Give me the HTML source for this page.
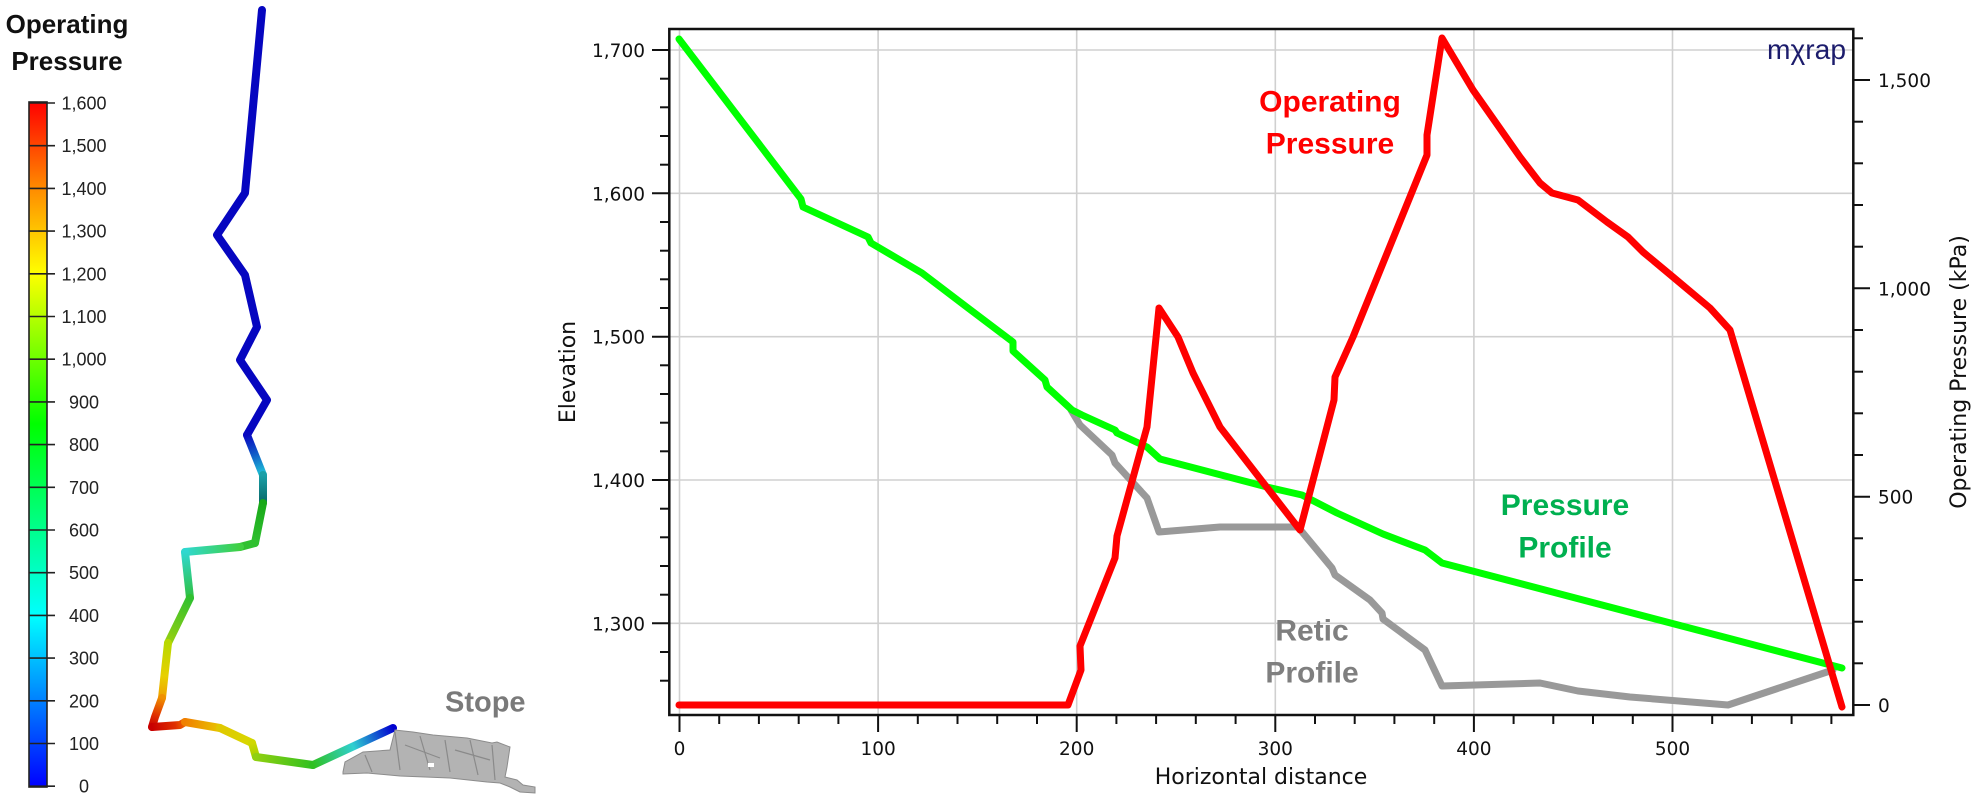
<!DOCTYPE html>
<html>
<head>
<meta charset="utf-8">
<style>
  html, body { margin:0; padding:0; background:#ffffff; }
  body { width:1975px; height:803px; overflow:hidden; }
  svg { display:block; }
  .tl { font-family:"DejaVu Sans","Liberation Sans",sans-serif; font-size:18.5px; fill:#111; }
  .at { font-family:"DejaVu Sans","Liberation Sans",sans-serif; font-size:22px; fill:#111; }
  .cb { font-family:"Liberation Sans",sans-serif; font-size:18px; fill:#222; }
  .lab { font-family:"Liberation Sans",sans-serif; font-weight:bold; font-size:30px; }
</style>
</head>
<body>
<svg width="1975" height="803" viewBox="0 0 1975 803" xmlns="http://www.w3.org/2000/svg">
  <defs>
    <linearGradient id="cbar" x1="0" y1="102" x2="0" y2="787" gradientUnits="userSpaceOnUse">
      <stop offset="0" stop-color="#ff0000"/>
      <stop offset="0.125" stop-color="#ff8a00"/>
      <stop offset="0.25" stop-color="#ffff00"/>
      <stop offset="0.47" stop-color="#00ff00"/>
      <stop offset="0.75" stop-color="#00ffff"/>
      <stop offset="1" stop-color="#0000ff"/>
    </linearGradient>
    <linearGradient id="g8" x1="247" y1="435" x2="263" y2="475" gradientUnits="userSpaceOnUse"><stop offset="0" stop-color="#0808c0"/><stop offset="0.5" stop-color="#1060c8"/><stop offset="1" stop-color="#20c8d8"/></linearGradient>
    <linearGradient id="g9" x1="263" y1="475" x2="263" y2="503" gradientUnits="userSpaceOnUse"><stop offset="0" stop-color="#1aa0a8"/><stop offset="1" stop-color="#086868"/></linearGradient>
    <linearGradient id="g10" x1="263" y1="503" x2="255" y2="543" gradientUnits="userSpaceOnUse"><stop offset="0" stop-color="#18a818"/><stop offset="1" stop-color="#30c030"/></linearGradient>
    <linearGradient id="g12" x1="240" y1="547" x2="185" y2="552" gradientUnits="userSpaceOnUse"><stop offset="0" stop-color="#40d040"/><stop offset="1" stop-color="#30d8d0"/></linearGradient>
    <linearGradient id="g13" x1="185" y1="552" x2="190" y2="598" gradientUnits="userSpaceOnUse"><stop offset="0" stop-color="#30d8d0"/><stop offset="1" stop-color="#30c040"/></linearGradient>
    <linearGradient id="g14" x1="190" y1="598" x2="168" y2="643" gradientUnits="userSpaceOnUse"><stop offset="0" stop-color="#30c030"/><stop offset="1" stop-color="#98d010"/></linearGradient>
    <linearGradient id="g15" x1="168" y1="643" x2="162" y2="698" gradientUnits="userSpaceOnUse"><stop offset="0" stop-color="#b8d800"/><stop offset="0.6" stop-color="#e8d000"/><stop offset="1" stop-color="#f0a000"/></linearGradient>
    <linearGradient id="g16" x1="162" y1="698" x2="152" y2="727" gradientUnits="userSpaceOnUse"><stop offset="0" stop-color="#f09000"/><stop offset="0.6" stop-color="#e03000"/><stop offset="1" stop-color="#c80000"/></linearGradient>
    <linearGradient id="g18" x1="152" y1="727" x2="185" y2="722" gradientUnits="userSpaceOnUse"><stop offset="0" stop-color="#c80000"/><stop offset="0.7" stop-color="#e03000"/><stop offset="1" stop-color="#f06800"/></linearGradient>
    <linearGradient id="g20" x1="185" y1="722" x2="220" y2="728" gradientUnits="userSpaceOnUse"><stop offset="0" stop-color="#f08000"/><stop offset="1" stop-color="#e8c400"/></linearGradient>
    <linearGradient id="g21" x1="220" y1="728" x2="252" y2="743" gradientUnits="userSpaceOnUse"><stop offset="0" stop-color="#e0c800"/><stop offset="1" stop-color="#d8d800"/></linearGradient>
    <linearGradient id="g22" x1="252" y1="743" x2="256" y2="757" gradientUnits="userSpaceOnUse"><stop offset="0" stop-color="#d0d800"/><stop offset="1" stop-color="#a0d000"/></linearGradient>
    <linearGradient id="g23" x1="256" y1="757" x2="313" y2="765" gradientUnits="userSpaceOnUse"><stop offset="0" stop-color="#90d010"/><stop offset="1" stop-color="#30c020"/></linearGradient>
    <linearGradient id="g24" x1="313" y1="765" x2="393" y2="728" gradientUnits="userSpaceOnUse"><stop offset="0" stop-color="#30c020"/><stop offset="0.5" stop-color="#30d0d0"/><stop offset="1" stop-color="#0000d0"/></linearGradient>
  </defs>

  <!-- ============ LEFT: colour bar ============ -->
  <text x="67" y="33" text-anchor="middle" style="font-family:'Liberation Sans',sans-serif;font-weight:bold;font-size:26px;fill:#111">Operating</text>
  <text x="67" y="70" text-anchor="middle" style="font-family:'Liberation Sans',sans-serif;font-weight:bold;font-size:26px;fill:#111">Pressure</text>

  <rect x="29" y="102" width="18" height="685" fill="url(#cbar)" stroke="#222" stroke-width="1.6"/>
  <g stroke="#222" stroke-width="1.6">
    <line x1="29" y1="103" x2="55" y2="103"/><line x1="29" y1="145.7" x2="55" y2="145.7"/>
    <line x1="29" y1="188.4" x2="55" y2="188.4"/><line x1="29" y1="231.1" x2="55" y2="231.1"/>
    <line x1="29" y1="273.8" x2="55" y2="273.8"/><line x1="29" y1="316.5" x2="55" y2="316.5"/>
    <line x1="29" y1="359.2" x2="55" y2="359.2"/><line x1="29" y1="401.9" x2="55" y2="401.9"/>
    <line x1="29" y1="444.6" x2="55" y2="444.6"/><line x1="29" y1="487.3" x2="55" y2="487.3"/>
    <line x1="29" y1="530" x2="55" y2="530"/><line x1="29" y1="572.7" x2="55" y2="572.7"/>
    <line x1="29" y1="615.4" x2="55" y2="615.4"/><line x1="29" y1="658.1" x2="55" y2="658.1"/>
    <line x1="29" y1="700.8" x2="55" y2="700.8"/><line x1="29" y1="743.5" x2="55" y2="743.5"/>
    <line x1="29" y1="786.2" x2="55" y2="786.2"/>
  </g>
  <g class="cb" text-anchor="middle">
    <text x="84" y="109.5">1,600</text><text x="84" y="152.2">1,500</text>
    <text x="84" y="194.9">1,400</text><text x="84" y="237.6">1,300</text>
    <text x="84" y="280.3">1,200</text><text x="84" y="323">1,100</text>
    <text x="84" y="365.7">1,000</text><text x="84" y="408.4">900</text>
    <text x="84" y="451.1">800</text><text x="84" y="493.8">700</text>
    <text x="84" y="536.5">600</text><text x="84" y="579.2">500</text>
    <text x="84" y="621.9">400</text><text x="84" y="664.6">300</text>
    <text x="84" y="707.3">200</text><text x="84" y="750">100</text>
    <text x="84" y="792.7">0</text>
  </g>

  <!-- ============ 3D pipe ============ -->
  <g fill="none" stroke-width="8" stroke-linecap="round" stroke-linejoin="round">
    <polyline points="262,10 245,193 217,235 245,275 257,327 240,360 267,400 247,435" stroke="#0606c0"/>
    <line x1="247" y1="435" x2="263" y2="475" stroke="url(#g8)"/>
    <line x1="263" y1="475" x2="263" y2="503" stroke="url(#g9)"/>
    <line x1="263" y1="503" x2="255" y2="543" stroke="url(#g10)"/>
    <line x1="255" y1="543" x2="240" y2="547" stroke="#30c030"/>
    <line x1="240" y1="547" x2="185" y2="552" stroke="url(#g12)"/>
    <line x1="185" y1="552" x2="190" y2="598" stroke="url(#g13)"/>
    <line x1="190" y1="598" x2="168" y2="643" stroke="url(#g14)"/>
    <line x1="168" y1="643" x2="162" y2="698" stroke="url(#g15)"/>
    <polyline points="162,698 155,717 152,727" stroke="url(#g16)"/>
    <polyline points="152,727 180,725 185,722" stroke="url(#g18)"/>
    <line x1="185" y1="722" x2="220" y2="728" stroke="url(#g20)"/>
    <line x1="220" y1="728" x2="252" y2="743" stroke="url(#g21)"/>
    <line x1="252" y1="743" x2="256" y2="757" stroke="url(#g22)"/>
    <line x1="256" y1="757" x2="313" y2="765" stroke="url(#g23)"/>
    <line x1="313" y1="765" x2="393" y2="728" stroke="url(#g24)"/>
  </g>

  <!-- Stope -->
  <polygon points="343,772 345,762 363,752 390,750 395,730 413,732 433,735 467,738 492,743 497,742 510,747 507,767 505,777 517,780 523,785 535,787 535,793 520,792 510,787 500,783 487,782 450,778 400,776 367,773 343,774"
           fill="#b3b3b3" stroke="#8c8c8c" stroke-width="1"/>
  <g stroke="#8a8a8a" stroke-width="1.2" fill="none">
    <path d="M395,732 L400,770"/><path d="M420,736 L430,770"/><path d="M445,740 L450,772"/>
    <path d="M470,740 L478,775"/><path d="M492,745 L495,780"/><path d="M365,755 L372,772"/>
    <path d="M405,745 L440,758"/><path d="M455,750 L490,760"/>
  </g>
  <rect x="428" y="763" width="6" height="4" fill="#ffffff"/>
  <text x="445" y="711.7" style="font-family:'Liberation Sans',sans-serif;font-weight:bold;font-size:29px;fill:#7a7a7a">Stope</text>

  <!-- ============ CHART ============ -->
  <!-- gridlines -->
  <g stroke="#d0d0d0" stroke-width="1.6">
    <line x1="679.5" y1="29" x2="679.5" y2="715"/>
    <line x1="878.1" y1="29" x2="878.1" y2="715"/>
    <line x1="1076.7" y1="29" x2="1076.7" y2="715"/>
    <line x1="1275.3" y1="29" x2="1275.3" y2="715"/>
    <line x1="1473.9" y1="29" x2="1473.9" y2="715"/>
    <line x1="1672.5" y1="29" x2="1672.5" y2="715"/>
    <line x1="669" y1="50" x2="1853" y2="50"/>
    <line x1="669" y1="193.3" x2="1853" y2="193.3"/>
    <line x1="669" y1="336.7" x2="1853" y2="336.7"/>
    <line x1="669" y1="480" x2="1853" y2="480"/>
    <line x1="669" y1="623.3" x2="1853" y2="623.3"/>
  </g>

  <!-- series -->
  <g fill="none" stroke-width="7" stroke-linecap="round" stroke-linejoin="round">
    <polyline stroke="#999999" points="1071,410 1080,425 1112,455 1115,463 1147,498 1159,532 1220,527 1298,527 1332,568 1335,575 1370,600 1382,613 1383,619 1425,650 1442,686 1540,683 1578,691 1630,697 1728,705 1833,670"/>
    <polyline stroke="#00ff00" points="679,39 801,199 803,207 868,237 871,243 922,273 968,308 1013,342 1013,351 1045,380 1047,387 1072,410 1082,415 1115,430 1117,433 1147,447 1160,459 1267,487 1302,495 1337,513 1383,534 1425,550 1442,563 1842,668"/>
    <polyline stroke="#ff0000" points="679,705 1068,705 1081,670 1080,646 1115,558 1117,536 1147,427 1159,308 1178,337 1193,373 1220,427 1300,530 1334,400 1335,377 1353,337 1427,155 1427,135 1442,38 1473,90 1520,157 1540,183 1552,193 1578,200 1607,222 1628,237 1643,252 1673,277 1710,308 1730,330 1842,707"/>
  </g>

  <!-- frame -->
  <rect x="669.3" y="29" width="1184" height="686" fill="none" stroke="#111" stroke-width="2.5"/>

  <!-- left ticks -->
  <g stroke="#111" stroke-width="2">
    <line x1="652" y1="50" x2="669" y2="50"/><line x1="652" y1="193.3" x2="669" y2="193.3"/>
    <line x1="652" y1="336.7" x2="669" y2="336.7"/><line x1="652" y1="480" x2="669" y2="480"/>
    <line x1="652" y1="623.3" x2="669" y2="623.3"/>
    <line x1="660" y1="78.7" x2="669" y2="78.7"/><line x1="660" y1="107.3" x2="669" y2="107.3"/>
    <line x1="660" y1="136" x2="669" y2="136"/><line x1="660" y1="164.7" x2="669" y2="164.7"/>
    <line x1="660" y1="222" x2="669" y2="222"/><line x1="660" y1="250.7" x2="669" y2="250.7"/>
    <line x1="660" y1="279.3" x2="669" y2="279.3"/><line x1="660" y1="308" x2="669" y2="308"/>
    <line x1="660" y1="365.3" x2="669" y2="365.3"/><line x1="660" y1="394" x2="669" y2="394"/>
    <line x1="660" y1="422.7" x2="669" y2="422.7"/><line x1="660" y1="451.3" x2="669" y2="451.3"/>
    <line x1="660" y1="508.7" x2="669" y2="508.7"/><line x1="660" y1="537.3" x2="669" y2="537.3"/>
    <line x1="660" y1="566" x2="669" y2="566"/><line x1="660" y1="594.7" x2="669" y2="594.7"/>
    <line x1="660" y1="652" x2="669" y2="652"/><line x1="660" y1="680.7" x2="669" y2="680.7"/>
  </g>
  <g class="tl" text-anchor="end">
    <text x="645" y="57">1,700</text><text x="645" y="200.3">1,600</text>
    <text x="645" y="343.7">1,500</text><text x="645" y="487">1,400</text>
    <text x="645" y="630.3">1,300</text>
  </g>

  <!-- bottom ticks -->
  <g stroke="#111" stroke-width="2">
    <line x1="679.5" y1="715" x2="679.5" y2="732"/><line x1="878.1" y1="715" x2="878.1" y2="732"/>
    <line x1="1076.7" y1="715" x2="1076.7" y2="732"/><line x1="1275.3" y1="715" x2="1275.3" y2="732"/>
    <line x1="1473.9" y1="715" x2="1473.9" y2="732"/><line x1="1672.5" y1="715" x2="1672.5" y2="732"/>
    <line x1="719.2" y1="715" x2="719.2" y2="724"/><line x1="758.9" y1="715" x2="758.9" y2="724"/>
    <line x1="798.7" y1="715" x2="798.7" y2="724"/><line x1="838.4" y1="715" x2="838.4" y2="724"/>
    <line x1="917.8" y1="715" x2="917.8" y2="724"/><line x1="957.5" y1="715" x2="957.5" y2="724"/>
    <line x1="997.2" y1="715" x2="997.2" y2="724"/><line x1="1037" y1="715" x2="1037" y2="724"/>
    <line x1="1116.4" y1="715" x2="1116.4" y2="724"/><line x1="1156.1" y1="715" x2="1156.1" y2="724"/>
    <line x1="1195.8" y1="715" x2="1195.8" y2="724"/><line x1="1235.6" y1="715" x2="1235.6" y2="724"/>
    <line x1="1315" y1="715" x2="1315" y2="724"/><line x1="1354.7" y1="715" x2="1354.7" y2="724"/>
    <line x1="1394.4" y1="715" x2="1394.4" y2="724"/><line x1="1434.2" y1="715" x2="1434.2" y2="724"/>
    <line x1="1513.6" y1="715" x2="1513.6" y2="724"/><line x1="1553.3" y1="715" x2="1553.3" y2="724"/>
    <line x1="1593" y1="715" x2="1593" y2="724"/><line x1="1632.8" y1="715" x2="1632.8" y2="724"/>
    <line x1="1712.2" y1="715" x2="1712.2" y2="724"/><line x1="1751.9" y1="715" x2="1751.9" y2="724"/>
    <line x1="1791.6" y1="715" x2="1791.6" y2="724"/><line x1="1831.4" y1="715" x2="1831.4" y2="724"/>
  </g>
  <g class="tl" text-anchor="middle">
    <text x="679.5" y="755">0</text><text x="878.1" y="755">100</text>
    <text x="1076.7" y="755">200</text><text x="1275.3" y="755">300</text>
    <text x="1473.9" y="755">400</text><text x="1672.5" y="755">500</text>
  </g>

  <!-- right ticks -->
  <g stroke="#111" stroke-width="2">
    <line x1="1853" y1="705" x2="1870" y2="705"/><line x1="1853" y1="496.7" x2="1870" y2="496.7"/>
    <line x1="1853" y1="288.3" x2="1870" y2="288.3"/><line x1="1853" y1="80" x2="1870" y2="80"/>
    <line x1="1853" y1="663.3" x2="1863" y2="663.3"/><line x1="1853" y1="621.7" x2="1863" y2="621.7"/>
    <line x1="1853" y1="580" x2="1863" y2="580"/><line x1="1853" y1="538.3" x2="1863" y2="538.3"/>
    <line x1="1853" y1="455" x2="1863" y2="455"/><line x1="1853" y1="413.3" x2="1863" y2="413.3"/>
    <line x1="1853" y1="371.7" x2="1863" y2="371.7"/><line x1="1853" y1="330" x2="1863" y2="330"/>
    <line x1="1853" y1="246.7" x2="1863" y2="246.7"/><line x1="1853" y1="205" x2="1863" y2="205"/>
    <line x1="1853" y1="163.3" x2="1863" y2="163.3"/><line x1="1853" y1="121.7" x2="1863" y2="121.7"/>
    <line x1="1853" y1="38.3" x2="1863" y2="38.3"/>
  </g>
  <g class="tl" text-anchor="start">
    <text x="1878" y="712">0</text><text x="1878" y="503.7">500</text>
    <text x="1878" y="295.3">1,000</text><text x="1878" y="87">1,500</text>
  </g>

  <!-- axis titles -->
  <text class="at" x="1261" y="784" text-anchor="middle">Horizontal distance</text>
  <text class="at" transform="translate(575,372) rotate(-90)" text-anchor="middle">Elevation</text>
  <text class="at" transform="translate(1966,372) rotate(-90)" text-anchor="middle">Operating Pressure (kPa)</text>

  <!-- logo -->
  <text x="1767" y="59" textLength="79" lengthAdjust="spacingAndGlyphs" style="font-family:'Liberation Sans',sans-serif;font-size:28px;fill:#1c1c6c">mχrap</text>

  <!-- in-chart labels -->
  <g class="lab" text-anchor="middle" fill="#ff0000">
    <text x="1330" y="111.7">Operating</text>
    <text x="1330" y="153.3">Pressure</text>
  </g>
  <g class="lab" text-anchor="middle" fill="#00b050">
    <text x="1565" y="515">Pressure</text>
    <text x="1565" y="557.7">Profile</text>
  </g>
  <g class="lab" text-anchor="middle" fill="#7f7f7f">
    <text x="1312" y="640.7">Retic</text>
    <text x="1312" y="682.7">Profile</text>
  </g>
</svg>
</body>
</html>
